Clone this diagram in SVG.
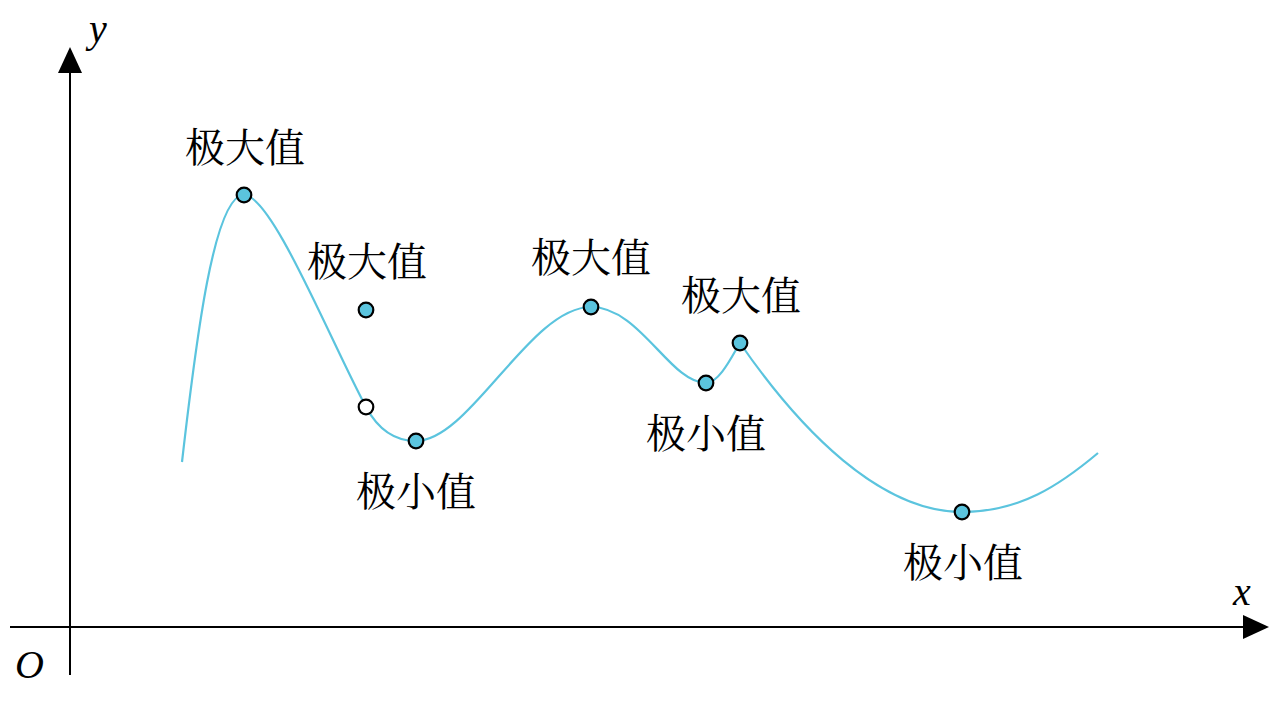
<svg xmlns="http://www.w3.org/2000/svg" width="1280" height="720" viewBox="0 0 1280 720">
<style>
.axis{stroke:#000;stroke-width:2;fill:none}
.curve{stroke:#5BC4DE;stroke-width:2.2;fill:none}
.pt{fill:#5BC4DE;stroke:#000;stroke-width:2.2}
.open{fill:#fff;stroke:#000;stroke-width:2.2}
.lbl{font-family:"Noto Serif CJK SC","Noto Sans CJK SC",serif;font-size:40px;fill:#000;text-anchor:middle}
.var{font-family:"Liberation Serif",serif;font-style:italic;font-size:40px;fill:#000}
</style>
<rect width="1280" height="720" fill="#fff"/>
<g id="axes">
<line class="axis" x1="70" y1="675" x2="70" y2="72"/>
<polygon points="70,47 58,73 82,73" fill="#000"/>
<line class="axis" x1="10" y1="627" x2="1244" y2="627"/>
<polygon points="1269,627 1243,615 1243,639" fill="#000"/>
<text class="var" x="89" y="42">y</text>
<text class="var" x="1233" y="605">x</text>
<text class="var" x="15" y="678">O</text>
</g>
<g id="connectors">
<path class="curve" d="M182,462 C196,340 214,195 244,195 C272,195 330,340 366,407 C380,433 398,441 416,441 C470,441 530,307 591,307 C640,307 670,383 706,383 C720,383 734,352 740,343 C800,430 880,512 962,512 C1020,512 1060,485 1098,453"/>
</g>
<g id="p1"><circle class="pt" cx="244" cy="195" r="7.3"/><text class="lbl" x="245" y="162">极大值</text></g>
<g id="p2"><circle class="pt" cx="366" cy="310" r="7.3"/><text class="lbl" x="367" y="276">极大值</text></g>
<g id="p3"><circle class="open" cx="366" cy="407" r="7.3"/></g>
<g id="p4"><circle class="pt" cx="416" cy="441" r="7.3"/><text class="lbl" x="416" y="506">极小值</text></g>
<g id="p5"><circle class="pt" cx="591" cy="307" r="7.3"/><text class="lbl" x="591" y="272">极大值</text></g>
<g id="p6"><circle class="pt" cx="706" cy="383" r="7.3"/><text class="lbl" x="706" y="448">极小值</text></g>
<g id="p7"><circle class="pt" cx="740" cy="343" r="7.3"/><text class="lbl" x="741" y="310">极大值</text></g>
<g id="p8"><circle class="pt" cx="962" cy="512" r="7.3"/><text class="lbl" x="963" y="577">极小值</text></g>
</svg>
